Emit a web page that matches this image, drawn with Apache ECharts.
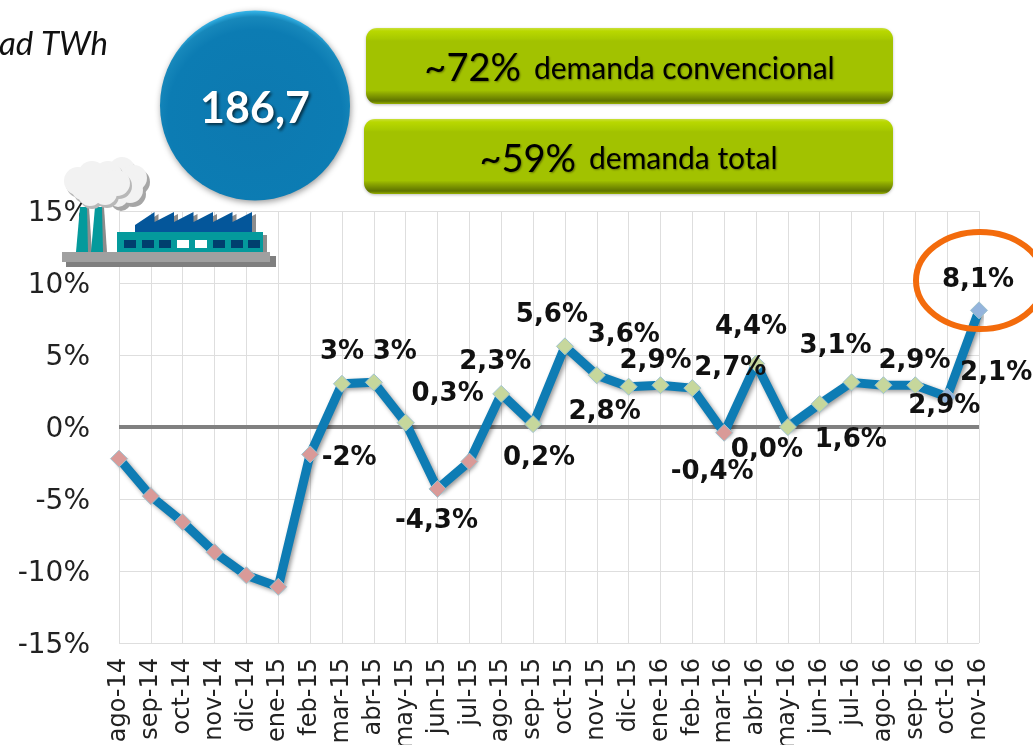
<!DOCTYPE html>
<html>
<head>
<meta charset="utf-8">
<style>
  html, body { margin: 0; padding: 0; background: #fff; overflow: hidden; }
  #main { width: 1033px; height: 745px; }
</style>
<script src="https://cdn.jsdelivr.net/npm/echarts@6/dist/echarts.min.js"></script>
</head>
<body>
<div id="main"></div>
<script>
var categories = ['ago-14','sep-14','oct-14','nov-14','dic-14','ene-15','feb-15','mar-15','abr-15','may-15','jun-15','jul-15','ago-15','sep-15','oct-15','nov-15','dic-15','ene-16','feb-16','mar-16','abr-16','may-16','jun-16','jul-16','ago-16','sep-16','oct-16','nov-16'];
var values = [-2.2,-4.8,-6.6,-8.7,-10.3,-11.1,-1.9,3.0,3.1,0.3,-4.3,-2.4,2.3,0.2,5.6,3.6,2.8,2.9,2.7,-0.4,4.4,0.0,1.6,3.1,2.9,2.9,2.1,8.1];
var labels = ['','','','','','','-2%','3%','3%','0,3%','-4,3%','','2,3%','0,2%','5,6%','3,6%','2,8%','2,9%','2,7%','-0,4%','4,4%','0,0%','1,6%','3,1%','2,9%','2,9%','2,1%','8,1%'];
// hand placed offsets, the labels dodge each other in the original
var labelOffsets = [[0,0],[0,0],[0,0],[0,0],[0,0],[0,0],[39,4],[0,-32],[21,-30],[42,-28],[-1,32],[0,0],[-6,-32],[6,34],[-13,-31],[27,-40],[-24,26],[-5,-24],[38,-20],[-12,39],[-5,-36],[-21,23],[31,36],[-16,-36],[31,-24],[29,21],[49,-24],[-1,-30]];

var chartFont = '"DejaVu Sans"';
var boxFont = 'Lato';

var seriesData = values.map(function(v, i) {
  var col = '#c6d79c';
  if (v < 0) col = '#d99a98';
  if (i >= values.length - 2) col = '#94b4dc';
  return {
    value: v,
    itemStyle: { color: col },
    label: {
      show: labels[i] !== '',
      formatter: labels[i],
      position: 'inside',
      offset: labelOffsets[i]
    }
  };
});

function box(x, y, w, h, big, small) {
  var txtShadow = { textShadowBlur: 2, textShadowColor: 'rgba(60,70,0,0.6)', textShadowOffsetX: 1, textShadowOffsetY: 1 };
  return {
    type: 'group',
    children: [
      { type: 'rect', z: 20, shape: { x: x, y: y, width: w, height: h, r: 11 },
        style: {
          fill: { type: 'linear', x: 0, y: 0, x2: 0, y2: 1, colorStops: [
            { offset: 0, color: '#c9df3a' }, { offset: 0.04, color: '#b9d800' }, { offset: 0.14, color: '#a8ca00' },
            { offset: 0.17, color: '#a2c200' }, { offset: 0.82, color: '#a2c200' }, { offset: 0.86, color: '#8ea900' },
            { offset: 0.96, color: '#5e7300' }, { offset: 1, color: '#97b000' } ] },
          shadowBlur: 3, shadowColor: 'rgba(0,0,0,0.25)', shadowOffsetY: 1
        } },
      { type: 'text', z: 21, x: x + w / 2, y: y + h / 2 + 3,
        style: {
          text: '{b|' + big + '}{s|' + small + '}',
          align: 'center', verticalAlign: 'middle', fill: '#000',
          rich: {
            b: Object.assign({ fontFamily: boxFont, fontSize: 38, fill: '#000', padding: [0, 13, 0, 0] }, txtShadow),
            s: Object.assign({ fontFamily: boxFont, fontSize: 30, fill: '#000' }, txtShadow)
          }
        } }
    ]
  };
}

function factory() {
  var kids = [];
  function add(el) { el.z = 15; kids.push(el); }
  // ground slab
  add({ type: 'rect', shape: { x: 66, y: 256, width: 210, height: 11 }, style: { fill: '#7f7f7f' } });
  add({ type: 'rect', shape: { x: 62, y: 252, width: 208, height: 10 }, style: { fill: '#a0a0a0' } });
  // chimneys
  [[76, 88], [91, 103]].forEach(function(c) {
    add({ type: 'polygon', shape: { points: [[c[0] + 8, 207], [c[1] + 1, 207], [c[1] + 4, 252], [c[0] + 4, 252]] }, style: { fill: '#8c8c8c' } });
    add({ type: 'polygon', shape: { points: [[c[0] + 4, 207], [c[1] - 1, 207], [c[1], 252], [c[0], 252]] }, style: { fill: '#049a9c' } });
  });
  // smoke, back cloud then front cloud
  var back = [[122,170,13],[134,178,13],[130,190,13],[118,197,10]];
  var front = [[78,181,14],[92,175,14],[108,175,14],[117,183,13],[105,193,12],[90,194,12],[82,190,10]];
  back.forEach(function(p) { add({ type: 'circle', shape: { cx: p[0] + 3, cy: p[1] + 4, r: p[2] }, style: { fill: '#a6a6a6' } }); });
  back.forEach(function(p) { add({ type: 'circle', shape: { cx: p[0], cy: p[1], r: p[2] }, style: { fill: '#f2f2f2' } }); });
  front.forEach(function(p) { add({ type: 'circle', shape: { cx: p[0] + 2, cy: p[1] + 3, r: p[2] }, style: { fill: '#b8b8b8' } }); });
  front.forEach(function(p) { add({ type: 'circle', shape: { cx: p[0], cy: p[1], r: p[2] }, style: { fill: '#f2f2f2' } }); });
  // saw roof
  var roof = [[135, 232], [135, 225]];
  for (var i = 0; i < 6; i++) {
    var x0 = 135 + i * 19.5;
    roof.push([x0 + 19.5, 212]);
    roof.push([x0 + 19.5, 222]);
  }
  roof.push([252, 232]);
  add({ type: 'polygon', x: 4, y: 2, shape: { points: roof }, style: { fill: '#8c8c8c' } });
  add({ type: 'polygon', shape: { points: roof }, style: { fill: '#04569a' } });
  // hall
  add({ type: 'rect', shape: { x: 120, y: 235, width: 147, height: 17 }, style: { fill: '#8c8c8c' } });
  add({ type: 'rect', shape: { x: 117, y: 232, width: 146, height: 20 }, style: { fill: '#049a9c' } });
  var winX = [124, 142, 159, 177, 195, 213, 231, 248];
  winX.forEach(function(x, i) {
    add({ type: 'rect', shape: { x: x, y: 240, width: 12, height: 8 },
      style: { fill: (i === 3 || i === 4) ? '#ffffff' : '#003f6e' } });
  });
  return { type: 'group', children: kids };
}

var myChart = echarts.init(document.getElementById('main'));
var option = {
  animation: false,
  backgroundColor: '#fff',
  grid: { left: 119, right: 54, top: 211, bottom: 102, outerBoundsMode: 'none' },
  xAxis: {
    type: 'category',
    data: categories,
    boundaryGap: false,
    axisLine: { show: false },
    axisTick: { show: false },
    splitLine: { show: true, lineStyle: { color: '#dedede', width: 1 } },
    axisLabel: { rotate: 90, interval: 0, margin: 15, fontFamily: chartFont, fontSize: 24, color: '#222' }
  },
  yAxis: {
    type: 'value',
    min: -15,
    max: 15,
    interval: 5,
    axisLine: { show: false },
    axisTick: { show: false },
    splitLine: { lineStyle: { color: '#dedede', width: 1 } },
    axisLabel: {
      margin: 29, color: '#222',
      formatter: function(v) { return '{a|' + v + '%}'; },
      rich: { a: { fontFamily: chartFont, fontSize: 28, color: '#222', padding: [6, 0, 0, 0] } }
    }
  },
  series: [{
    type: 'line',
    z: 3,
    data: seriesData,
    symbol: 'diamond',
    symbolSize: 17,
    showAllSymbols: true,
    lineStyle: { color: '#0e7cb4', width: 9, shadowColor: 'rgba(0,0,0,0.4)', shadowBlur: 4, shadowOffsetX: 2, shadowOffsetY: 2 },
    itemStyle: { borderColor: '#9fc3cf', borderWidth: 1 },
    label: { fontFamily: chartFont, fontWeight: 'bold', fontSize: 26, color: '#111' },
    markLine: {
      silent: true,
      z: 1,
      symbol: 'none',
      label: { show: false },
      lineStyle: { color: '#808080', width: 4, type: 'solid' },
      data: [{ yAxis: 0 }]
    }
  }],
  graphic: [
    { type: 'text', x: 108, y: 44, z: 20,
      style: { text: 'ad TWh', align: 'right', verticalAlign: 'middle', fontFamily: boxFont, fontStyle: 'italic', fontSize: 33, fill: '#111' } },
    { type: 'circle', z: 20, shape: { cx: 255, cy: 105.5, r: 95 },
      style: {
        fill: { type: 'radial', x: 0.5, y: 0.56, r: 0.56, colorStops: [
          { offset: 0, color: '#0d79b0' }, { offset: 0.82, color: '#0c7cb3' }, { offset: 0.94, color: '#1788bb' }, { offset: 1, color: '#38b8ec' } ] },
        shadowBlur: 6, shadowColor: 'rgba(0,0,0,0.4)', shadowOffsetX: 1, shadowOffsetY: 2
      } },
    { type: 'text', x: 255, y: 109, z: 21,
      style: { text: '186,7', align: 'center', verticalAlign: 'middle', fontFamily: boxFont, fontWeight: 'bold', fontSize: 43, fill: '#fff',
        textShadowBlur: 3, textShadowColor: 'rgba(0,0,0,0.6)', textShadowOffsetX: 2, textShadowOffsetY: 2 } },
    box(366, 28, 527, 76, '~72%', 'demanda convencional'),
    box(364, 119, 529, 75, '~59%', 'demanda total'),
    factory(),
    { type: 'ellipse', z: 20, shape: { cx: 980, cy: 280.5, rx: 64, ry: 48.5 },
      style: { fill: 'none', stroke: '#f36b0c', lineWidth: 6 } }
  ]
};
myChart.setOption(option);
</script>
</body>
</html>
